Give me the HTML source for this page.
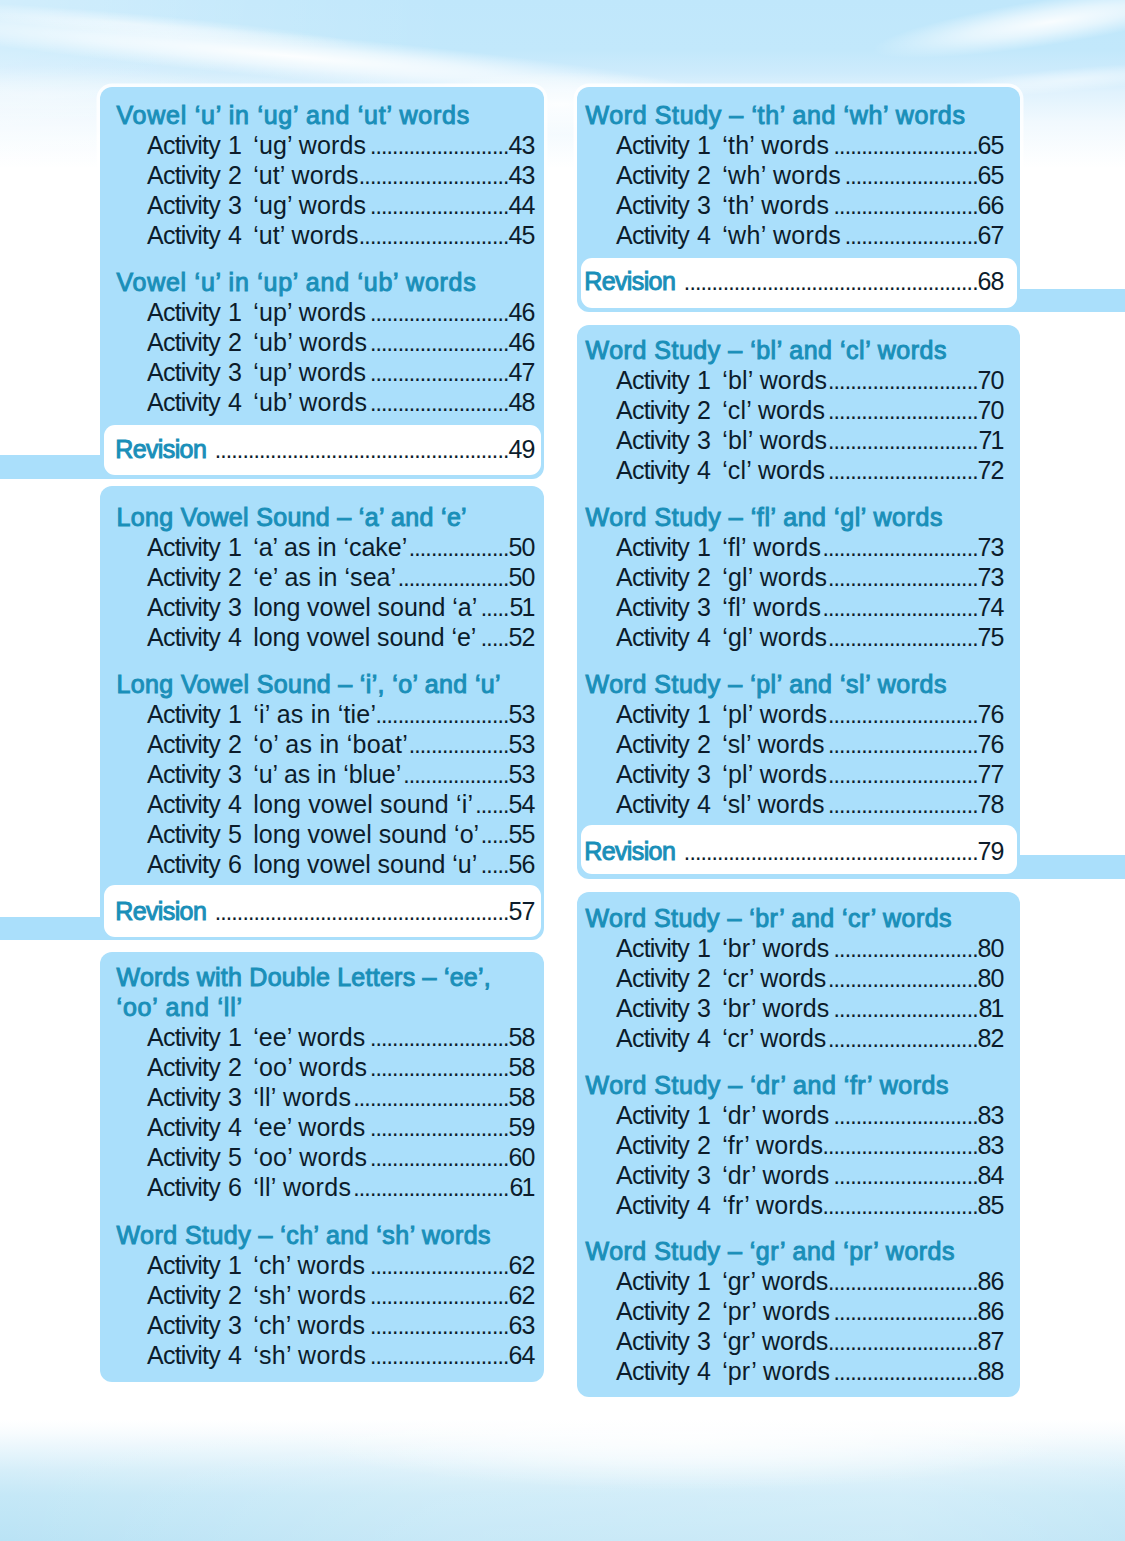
<!DOCTYPE html>
<html lang="en"><head><meta charset="utf-8"><title>Contents</title>
<style>

html,body{margin:0;padding:0}
body{width:1125px;height:1541px;position:relative;overflow:hidden;background:#fff;font-family:"Liberation Sans",sans-serif;font-size:25px;color:#0c1c2b}
.sky{position:absolute;left:0;top:0;width:1125px;height:175px;background:
 linear-gradient(to right,rgba(255,255,255,.28) 0,rgba(255,255,255,.10) 22%,rgba(255,255,255,0) 40%,rgba(255,255,255,0) 100%),
 linear-gradient(to bottom,#c0e7fb 0,#c2e8fb 50px,#cdebfc 72px,#e0f2fd 92px,#f1f9fe 122px,#fff 168px)}
.cl{position:absolute;border-radius:50%;background:radial-gradient(closest-side,rgba(255,255,255,1),rgba(255,255,255,.65) 45%,rgba(255,255,255,0))}
.sea{position:absolute;left:0;top:1420px;width:1125px;height:121px;background:
 linear-gradient(to right,rgba(181,224,245,0) 0,rgba(255,255,255,.20) 40%,rgba(255,255,255,.25) 80%,rgba(255,255,255,.12) 100%),
 linear-gradient(to bottom,#fff 0,#f8fcfe 10%,#e9f6fc 24%,#d5eef9 42%,#c5e8f7 62%,#bae3f5 100%)}
.bx{position:absolute;background:#aadffb;border-radius:12px;box-shadow:0 0 0 3.5px rgba(255,255,255,.8)}
.wb{position:absolute;background:#fff;border-radius:11px}
.bd{position:absolute;background:#aadffb}
.r{position:absolute;left:0;width:1125px;height:30px;line-height:30px;white-space:nowrap}
.r span{position:absolute;top:0}
.h{color:#1a8fb9;font-size:25px;-webkit-text-stroke:1.0px #1a8fb9}
.r span.d{letter-spacing:-0.846px;font-size:23px;top:1px}

</style></head><body>
<div class="sky"></div>
<div class="cl" style="left:-160px;top:33px;width:900px;height:46px;transform:rotate(5.3deg);opacity:0.95"></div>
<div class="cl" style="left:-100px;top:13px;width:460px;height:22px;transform:rotate(5deg);opacity:0.5"></div>
<div class="cl" style="left:-170px;top:65px;width:420px;height:60px;transform:rotate(0deg);opacity:0.35"></div>
<div class="cl" style="left:395px;top:72px;width:330px;height:64px;transform:rotate(0deg);opacity:0.9"></div>
<div class="cl" style="left:870px;top:-1px;width:360px;height:46px;transform:rotate(-9deg);opacity:0.9"></div>
<div class="cl" style="left:920px;top:68px;width:300px;height:24px;transform:rotate(-5deg);opacity:0.5"></div>
<div class="sea"></div>
<div class="cl" style="left:300px;top:1382px;width:780px;height:108px;opacity:.8"></div>
<div class="bx" style="left:100.1px;top:87.2px;width:443.9px;height:391.9px"></div>
<div class="bx" style="left:100.1px;top:486.0px;width:443.9px;height:453.8px"></div>
<div class="bx" style="left:100.1px;top:952.3px;width:443.9px;height:429.3px"></div>
<div class="bx" style="left:576.7px;top:87.2px;width:443.2px;height:224.9px"></div>
<div class="bx" style="left:576.7px;top:325.0px;width:443.2px;height:554.0px"></div>
<div class="bx" style="left:576.7px;top:892.3px;width:443.2px;height:504.7px"></div>
<div class="bd" style="left:0;top:455.1px;width:114.1px;height:24.0px"></div>
<div class="bd" style="left:0;top:917.0px;width:114.1px;height:22.8px"></div>
<div class="bd" style="left:1005.9px;top:288.8px;width:119.1px;height:23.3px"></div>
<div class="bd" style="left:1005.9px;top:855.1px;width:119.1px;height:23.9px"></div>
<div class="wb" style="left:104.0px;top:425.0px;width:437.4px;height:50.3px"></div>
<div class="wb" style="left:104.0px;top:885.0px;width:437.4px;height:51.6px"></div>
<div class="wb" style="left:580.9px;top:257.8px;width:435.9px;height:50.6px"></div>
<div class="wb" style="left:580.9px;top:825.0px;width:435.9px;height:49.3px"></div>
<div class="r h" style="top:99.85px"><span style="left:116.5px;letter-spacing:0.754px">Vowel ‘u’ in ‘ug’ and ‘ut’ words</span></div>
<div class="r" style="top:129.87px"><span style="left:147px;letter-spacing:-0.773px;word-spacing:1.8px">Activity 1</span><span style="left:253.2px;letter-spacing:0.138px">‘ug’ words</span><span class="d" style="left:369.93px">.........................</span><span style="left:508.40px;letter-spacing:-0.906px">43</span></div>
<div class="r" style="top:159.89px"><span style="left:147px;letter-spacing:-0.773px;word-spacing:1.8px">Activity 2</span><span style="left:253.2px;letter-spacing:0.083px">‘ut’ words</span><span class="d" style="left:358.84px">...........................</span><span style="left:508.40px;letter-spacing:-0.906px">43</span></div>
<div class="r" style="top:189.91px"><span style="left:147px;letter-spacing:-0.773px;word-spacing:1.8px">Activity 3</span><span style="left:253.2px;letter-spacing:0.138px">‘ug’ words</span><span class="d" style="left:369.93px">.........................</span><span style="left:508.40px;letter-spacing:-0.906px">44</span></div>
<div class="r" style="top:219.93px"><span style="left:147px;letter-spacing:-0.773px;word-spacing:1.8px">Activity 4</span><span style="left:253.2px;letter-spacing:0.083px">‘ut’ words</span><span class="d" style="left:358.84px">...........................</span><span style="left:508.40px;letter-spacing:-0.906px">45</span></div>
<div class="r h" style="top:266.90px"><span style="left:116.5px;letter-spacing:0.740px">Vowel ‘u’ in ‘up’ and ‘ub’ words</span></div>
<div class="r" style="top:296.92px"><span style="left:147px;letter-spacing:-0.773px;word-spacing:1.8px">Activity 1</span><span style="left:253.2px;letter-spacing:0.138px">‘up’ words</span><span class="d" style="left:369.93px">.........................</span><span style="left:508.40px;letter-spacing:-0.906px">46</span></div>
<div class="r" style="top:326.94px"><span style="left:147px;letter-spacing:-0.773px;word-spacing:1.8px">Activity 2</span><span style="left:253.2px;letter-spacing:0.238px">‘ub’ words</span><span class="d" style="left:369.93px">.........................</span><span style="left:508.40px;letter-spacing:-0.906px">46</span></div>
<div class="r" style="top:356.96px"><span style="left:147px;letter-spacing:-0.773px;word-spacing:1.8px">Activity 3</span><span style="left:253.2px;letter-spacing:0.138px">‘up’ words</span><span class="d" style="left:369.93px">.........................</span><span style="left:508.40px;letter-spacing:-0.906px">47</span></div>
<div class="r" style="top:386.98px"><span style="left:147px;letter-spacing:-0.773px;word-spacing:1.8px">Activity 4</span><span style="left:253.2px;letter-spacing:0.238px">‘ub’ words</span><span class="d" style="left:369.93px">.........................</span><span style="left:508.40px;letter-spacing:-0.906px">48</span></div>
<div class="r" style="top:433.80px"><span class="h" style="left:115.2px;letter-spacing:-0.609px">Revision</span><span class="d" style="left:214.67px">.....................................................</span><span style="left:508.40px;letter-spacing:-0.906px">49</span></div>
<div class="r h" style="top:501.50px"><span style="left:116.5px;letter-spacing:0.316px">Long Vowel Sound – ‘a’ and ‘e’</span></div>
<div class="r" style="top:531.52px"><span style="left:147px;letter-spacing:-0.773px;word-spacing:1.8px">Activity 1</span><span style="left:253.2px;letter-spacing:-0.044px">‘a’ as in ‘cake’</span><span class="d" style="left:408.74px">..................</span><span style="left:508.40px;letter-spacing:-0.906px">50</span></div>
<div class="r" style="top:561.54px"><span style="left:147px;letter-spacing:-0.773px;word-spacing:1.8px">Activity 2</span><span style="left:253.2px;letter-spacing:0.053px">‘e’ as in ‘sea’</span><span class="d" style="left:397.65px">....................</span><span style="left:508.40px;letter-spacing:-0.906px">50</span></div>
<div class="r" style="top:591.56px"><span style="left:147px;letter-spacing:-0.773px;word-spacing:1.8px">Activity 3</span><span style="left:253.2px;letter-spacing:-0.058px">long vowel sound ‘a’</span><span class="d" style="left:480.83px">.....</span><span style="left:509.40px;letter-spacing:-1.906px">51</span></div>
<div class="r" style="top:621.58px"><span style="left:147px;letter-spacing:-0.773px;word-spacing:1.8px">Activity 4</span><span style="left:253.2px;letter-spacing:-0.108px">long vowel sound ‘e’</span><span class="d" style="left:480.83px">.....</span><span style="left:508.40px;letter-spacing:-0.906px">52</span></div>
<div class="r h" style="top:668.50px"><span style="left:116.5px;letter-spacing:0.370px">Long Vowel Sound – ‘i’, ‘o’ and ‘u’</span></div>
<div class="r" style="top:698.52px"><span style="left:147px;letter-spacing:-0.773px;word-spacing:1.8px">Activity 1</span><span style="left:253.2px;letter-spacing:0.203px">‘i’ as in ‘tie’</span><span class="d" style="left:375.47px">........................</span><span style="left:508.40px;letter-spacing:-0.906px">53</span></div>
<div class="r" style="top:728.54px"><span style="left:147px;letter-spacing:-0.773px;word-spacing:1.8px">Activity 2</span><span style="left:253.2px;letter-spacing:0.277px">‘o’ as in ‘boat’</span><span class="d" style="left:408.74px">..................</span><span style="left:508.40px;letter-spacing:-0.906px">53</span></div>
<div class="r" style="top:758.56px"><span style="left:147px;letter-spacing:-0.773px;word-spacing:1.8px">Activity 3</span><span style="left:253.2px;letter-spacing:-0.073px">‘u’ as in ‘blue’</span><span class="d" style="left:403.20px">...................</span><span style="left:508.40px;letter-spacing:-0.906px">53</span></div>
<div class="r" style="top:788.58px"><span style="left:147px;letter-spacing:-0.773px;word-spacing:1.8px">Activity 4</span><span style="left:253.2px;letter-spacing:0.160px">long vowel sound ‘i’</span><span class="d" style="left:475.28px">......</span><span style="left:508.40px;letter-spacing:-0.906px">54</span></div>
<div class="r" style="top:818.60px"><span style="left:147px;letter-spacing:-0.773px;word-spacing:1.8px">Activity 5</span><span style="left:253.2px;letter-spacing:0.042px">long vowel sound ‘o’</span><span class="d" style="left:480.83px">.....</span><span style="left:508.40px;letter-spacing:-0.906px">55</span></div>
<div class="r" style="top:848.62px"><span style="left:147px;letter-spacing:-0.773px;word-spacing:1.8px">Activity 6</span><span style="left:253.2px;letter-spacing:-0.058px">long vowel sound ‘u’</span><span class="d" style="left:480.83px">.....</span><span style="left:508.40px;letter-spacing:-0.906px">56</span></div>
<div class="r" style="top:895.80px"><span class="h" style="left:115.2px;letter-spacing:-0.609px">Revision</span><span class="d" style="left:214.67px">.....................................................</span><span style="left:508.40px;letter-spacing:-0.906px">57</span></div>
<div class="r h" style="top:962.20px"><span style="left:116.5px;letter-spacing:0.246px">Words with Double Letters – ‘ee’,</span></div>
<div class="r h" style="top:992.22px"><span style="left:116.5px;letter-spacing:0.822px">‘oo’ and ‘ll’</span></div>
<div class="r" style="top:1022.24px"><span style="left:147px;letter-spacing:-0.773px;word-spacing:1.8px">Activity 1</span><span style="left:253.2px;letter-spacing:0.038px">‘ee’ words</span><span class="d" style="left:369.93px">.........................</span><span style="left:508.40px;letter-spacing:-0.906px">58</span></div>
<div class="r" style="top:1052.26px"><span style="left:147px;letter-spacing:-0.773px;word-spacing:1.8px">Activity 2</span><span style="left:253.2px;letter-spacing:0.238px">‘oo’ words</span><span class="d" style="left:369.93px">.........................</span><span style="left:508.40px;letter-spacing:-0.906px">58</span></div>
<div class="r" style="top:1082.28px"><span style="left:147px;letter-spacing:-0.773px;word-spacing:1.8px">Activity 3</span><span style="left:253.2px;letter-spacing:0.308px">‘ll’ words</span><span class="d" style="left:353.29px">............................</span><span style="left:508.40px;letter-spacing:-0.906px">58</span></div>
<div class="r" style="top:1112.30px"><span style="left:147px;letter-spacing:-0.773px;word-spacing:1.8px">Activity 4</span><span style="left:253.2px;letter-spacing:0.038px">‘ee’ words</span><span class="d" style="left:369.93px">.........................</span><span style="left:508.40px;letter-spacing:-0.906px">59</span></div>
<div class="r" style="top:1142.32px"><span style="left:147px;letter-spacing:-0.773px;word-spacing:1.8px">Activity 5</span><span style="left:253.2px;letter-spacing:0.238px">‘oo’ words</span><span class="d" style="left:369.93px">.........................</span><span style="left:508.40px;letter-spacing:-0.906px">60</span></div>
<div class="r" style="top:1172.34px"><span style="left:147px;letter-spacing:-0.773px;word-spacing:1.8px">Activity 6</span><span style="left:253.2px;letter-spacing:0.308px">‘ll’ words</span><span class="d" style="left:353.29px">............................</span><span style="left:509.40px;letter-spacing:-1.906px">61</span></div>
<div class="r h" style="top:1219.90px"><span style="left:116.5px;letter-spacing:0.442px">Word Study – ‘ch’ and ‘sh’ words</span></div>
<div class="r" style="top:1249.92px"><span style="left:147px;letter-spacing:-0.773px;word-spacing:1.8px">Activity 1</span><span style="left:253.2px;letter-spacing:0.178px">‘ch’ words</span><span class="d" style="left:369.93px">.........................</span><span style="left:508.40px;letter-spacing:-0.906px">62</span></div>
<div class="r" style="top:1279.94px"><span style="left:147px;letter-spacing:-0.773px;word-spacing:1.8px">Activity 2</span><span style="left:253.2px;letter-spacing:0.278px">‘sh’ words</span><span class="d" style="left:369.93px">.........................</span><span style="left:508.40px;letter-spacing:-0.906px">62</span></div>
<div class="r" style="top:1309.96px"><span style="left:147px;letter-spacing:-0.773px;word-spacing:1.8px">Activity 3</span><span style="left:253.2px;letter-spacing:0.178px">‘ch’ words</span><span class="d" style="left:369.93px">.........................</span><span style="left:508.40px;letter-spacing:-0.906px">63</span></div>
<div class="r" style="top:1339.98px"><span style="left:147px;letter-spacing:-0.773px;word-spacing:1.8px">Activity 4</span><span style="left:253.2px;letter-spacing:0.278px">‘sh’ words</span><span class="d" style="left:369.93px">.........................</span><span style="left:508.40px;letter-spacing:-0.906px">64</span></div>
<div class="r h" style="top:99.85px"><span style="left:585.5px;letter-spacing:0.614px">Word Study – ‘th’ and ‘wh’ words</span></div>
<div class="r" style="top:129.87px"><span style="left:616px;letter-spacing:-0.773px;word-spacing:1.8px">Activity 1</span><span style="left:722.2px;letter-spacing:0.233px">‘th’ words</span><span class="d" style="left:833.58px">..........................</span><span style="left:977.40px;letter-spacing:-0.906px">65</span></div>
<div class="r" style="top:159.89px"><span style="left:616px;letter-spacing:-0.773px;word-spacing:1.8px">Activity 2</span><span style="left:722.2px;letter-spacing:0.322px">‘wh’ words</span><span class="d" style="left:844.67px">........................</span><span style="left:977.40px;letter-spacing:-0.906px">65</span></div>
<div class="r" style="top:189.91px"><span style="left:616px;letter-spacing:-0.773px;word-spacing:1.8px">Activity 3</span><span style="left:722.2px;letter-spacing:0.233px">‘th’ words</span><span class="d" style="left:833.58px">..........................</span><span style="left:977.40px;letter-spacing:-0.906px">66</span></div>
<div class="r" style="top:219.93px"><span style="left:616px;letter-spacing:-0.773px;word-spacing:1.8px">Activity 4</span><span style="left:722.2px;letter-spacing:0.322px">‘wh’ words</span><span class="d" style="left:844.67px">........................</span><span style="left:977.40px;letter-spacing:-0.906px">67</span></div>
<div class="r" style="top:266.40px"><span class="h" style="left:584.2px;letter-spacing:-0.609px">Revision</span><span class="d" style="left:683.87px">.....................................................</span><span style="left:977.40px;letter-spacing:-0.906px">68</span></div>
<div class="r h" style="top:334.50px"><span style="left:585.5px;letter-spacing:0.514px">Word Study – ‘bl’ and ‘cl’ words</span></div>
<div class="r" style="top:364.52px"><span style="left:616px;letter-spacing:-0.773px;word-spacing:1.8px">Activity 1</span><span style="left:722.2px;letter-spacing:0.172px">‘bl’ words</span><span class="d" style="left:828.04px">...........................</span><span style="left:977.40px;letter-spacing:-0.906px">70</span></div>
<div class="r" style="top:394.54px"><span style="left:616px;letter-spacing:-0.773px;word-spacing:1.8px">Activity 2</span><span style="left:722.2px;letter-spacing:0.112px">‘cl’ words</span><span class="d" style="left:828.04px">...........................</span><span style="left:977.40px;letter-spacing:-0.906px">70</span></div>
<div class="r" style="top:424.56px"><span style="left:616px;letter-spacing:-0.773px;word-spacing:1.8px">Activity 3</span><span style="left:722.2px;letter-spacing:0.172px">‘bl’ words</span><span class="d" style="left:828.04px">...........................</span><span style="left:978.40px;letter-spacing:-1.906px">71</span></div>
<div class="r" style="top:454.58px"><span style="left:616px;letter-spacing:-0.773px;word-spacing:1.8px">Activity 4</span><span style="left:722.2px;letter-spacing:0.112px">‘cl’ words</span><span class="d" style="left:828.04px">...........................</span><span style="left:977.40px;letter-spacing:-0.906px">72</span></div>
<div class="r h" style="top:501.50px"><span style="left:585.5px;letter-spacing:0.562px">Word Study – ‘fl’ and ‘gl’ words</span></div>
<div class="r" style="top:531.52px"><span style="left:616px;letter-spacing:-0.773px;word-spacing:1.8px">Activity 1</span><span style="left:722.2px;letter-spacing:0.267px">‘fl’ words</span><span class="d" style="left:822.49px">............................</span><span style="left:977.40px;letter-spacing:-0.906px">73</span></div>
<div class="r" style="top:561.54px"><span style="left:616px;letter-spacing:-0.773px;word-spacing:1.8px">Activity 2</span><span style="left:722.2px;letter-spacing:0.172px">‘gl’ words</span><span class="d" style="left:828.04px">...........................</span><span style="left:977.40px;letter-spacing:-0.906px">73</span></div>
<div class="r" style="top:591.56px"><span style="left:616px;letter-spacing:-0.773px;word-spacing:1.8px">Activity 3</span><span style="left:722.2px;letter-spacing:0.267px">‘fl’ words</span><span class="d" style="left:822.49px">............................</span><span style="left:977.40px;letter-spacing:-0.906px">74</span></div>
<div class="r" style="top:621.58px"><span style="left:616px;letter-spacing:-0.773px;word-spacing:1.8px">Activity 4</span><span style="left:722.2px;letter-spacing:0.172px">‘gl’ words</span><span class="d" style="left:828.04px">...........................</span><span style="left:977.40px;letter-spacing:-0.906px">75</span></div>
<div class="r h" style="top:668.50px"><span style="left:585.5px;letter-spacing:0.514px">Word Study – ‘pl’ and ‘sl’ words</span></div>
<div class="r" style="top:698.52px"><span style="left:616px;letter-spacing:-0.773px;word-spacing:1.8px">Activity 1</span><span style="left:722.2px;letter-spacing:0.172px">‘pl’ words</span><span class="d" style="left:828.04px">...........................</span><span style="left:977.40px;letter-spacing:-0.906px">76</span></div>
<div class="r" style="top:728.54px"><span style="left:616px;letter-spacing:-0.773px;word-spacing:1.8px">Activity 2</span><span style="left:722.2px;letter-spacing:0.062px">‘sl’ words</span><span class="d" style="left:828.04px">...........................</span><span style="left:977.40px;letter-spacing:-0.906px">76</span></div>
<div class="r" style="top:758.56px"><span style="left:616px;letter-spacing:-0.773px;word-spacing:1.8px">Activity 3</span><span style="left:722.2px;letter-spacing:0.172px">‘pl’ words</span><span class="d" style="left:828.04px">...........................</span><span style="left:977.40px;letter-spacing:-0.906px">77</span></div>
<div class="r" style="top:788.58px"><span style="left:616px;letter-spacing:-0.773px;word-spacing:1.8px">Activity 4</span><span style="left:722.2px;letter-spacing:0.062px">‘sl’ words</span><span class="d" style="left:828.04px">...........................</span><span style="left:977.40px;letter-spacing:-0.906px">78</span></div>
<div class="r" style="top:835.90px"><span class="h" style="left:584.2px;letter-spacing:-0.609px">Revision</span><span class="d" style="left:683.87px">.....................................................</span><span style="left:977.40px;letter-spacing:-0.906px">79</span></div>
<div class="r h" style="top:902.70px"><span style="left:585.5px;letter-spacing:0.438px">Word Study – ‘br’ and ‘cr’ words</span></div>
<div class="r" style="top:932.72px"><span style="left:616px;letter-spacing:-0.773px;word-spacing:1.8px">Activity 1</span><span style="left:722.2px;letter-spacing:0.002px">‘br’ words</span><span class="d" style="left:833.58px">..........................</span><span style="left:977.40px;letter-spacing:-0.906px">80</span></div>
<div class="r" style="top:962.74px"><span style="left:616px;letter-spacing:-0.773px;word-spacing:1.8px">Activity 2</span><span style="left:722.2px;letter-spacing:-0.158px">‘cr’ words</span><span class="d" style="left:828.04px">...........................</span><span style="left:977.40px;letter-spacing:-0.906px">80</span></div>
<div class="r" style="top:992.76px"><span style="left:616px;letter-spacing:-0.773px;word-spacing:1.8px">Activity 3</span><span style="left:722.2px;letter-spacing:0.002px">‘br’ words</span><span class="d" style="left:833.58px">..........................</span><span style="left:978.40px;letter-spacing:-1.906px">81</span></div>
<div class="r" style="top:1022.78px"><span style="left:616px;letter-spacing:-0.773px;word-spacing:1.8px">Activity 4</span><span style="left:722.2px;letter-spacing:-0.158px">‘cr’ words</span><span class="d" style="left:828.04px">...........................</span><span style="left:977.40px;letter-spacing:-0.906px">82</span></div>
<div class="r h" style="top:1069.50px"><span style="left:585.5px;letter-spacing:0.519px">Word Study – ‘dr’ and ‘fr’ words</span></div>
<div class="r" style="top:1099.52px"><span style="left:616px;letter-spacing:-0.773px;word-spacing:1.8px">Activity 1</span><span style="left:722.2px;letter-spacing:0.002px">‘dr’ words</span><span class="d" style="left:833.58px">..........................</span><span style="left:977.40px;letter-spacing:-0.906px">83</span></div>
<div class="r" style="top:1129.54px"><span style="left:616px;letter-spacing:-0.773px;word-spacing:1.8px">Activity 2</span><span style="left:722.2px;letter-spacing:0.098px">‘fr’ words</span><span class="d" style="left:822.49px">............................</span><span style="left:977.40px;letter-spacing:-0.906px">83</span></div>
<div class="r" style="top:1159.56px"><span style="left:616px;letter-spacing:-0.773px;word-spacing:1.8px">Activity 3</span><span style="left:722.2px;letter-spacing:0.002px">‘dr’ words</span><span class="d" style="left:833.58px">..........................</span><span style="left:977.40px;letter-spacing:-0.906px">84</span></div>
<div class="r" style="top:1189.58px"><span style="left:616px;letter-spacing:-0.773px;word-spacing:1.8px">Activity 4</span><span style="left:722.2px;letter-spacing:0.098px">‘fr’ words</span><span class="d" style="left:822.49px">............................</span><span style="left:977.40px;letter-spacing:-0.906px">85</span></div>
<div class="r h" style="top:1236.30px"><span style="left:585.5px;letter-spacing:0.489px">Word Study – ‘gr’ and ‘pr’ words</span></div>
<div class="r" style="top:1266.32px"><span style="left:616px;letter-spacing:-0.773px;word-spacing:1.8px">Activity 1</span><span style="left:722.2px;letter-spacing:-0.098px">‘gr’ words</span><span class="d" style="left:828.04px">...........................</span><span style="left:977.40px;letter-spacing:-0.906px">86</span></div>
<div class="r" style="top:1296.34px"><span style="left:616px;letter-spacing:-0.773px;word-spacing:1.8px">Activity 2</span><span style="left:722.2px;letter-spacing:0.102px">‘pr’ words</span><span class="d" style="left:833.58px">..........................</span><span style="left:977.40px;letter-spacing:-0.906px">86</span></div>
<div class="r" style="top:1326.36px"><span style="left:616px;letter-spacing:-0.773px;word-spacing:1.8px">Activity 3</span><span style="left:722.2px;letter-spacing:-0.098px">‘gr’ words</span><span class="d" style="left:828.04px">...........................</span><span style="left:977.40px;letter-spacing:-0.906px">87</span></div>
<div class="r" style="top:1356.38px"><span style="left:616px;letter-spacing:-0.773px;word-spacing:1.8px">Activity 4</span><span style="left:722.2px;letter-spacing:0.102px">‘pr’ words</span><span class="d" style="left:833.58px">..........................</span><span style="left:977.40px;letter-spacing:-0.906px">88</span></div>
</body></html>
